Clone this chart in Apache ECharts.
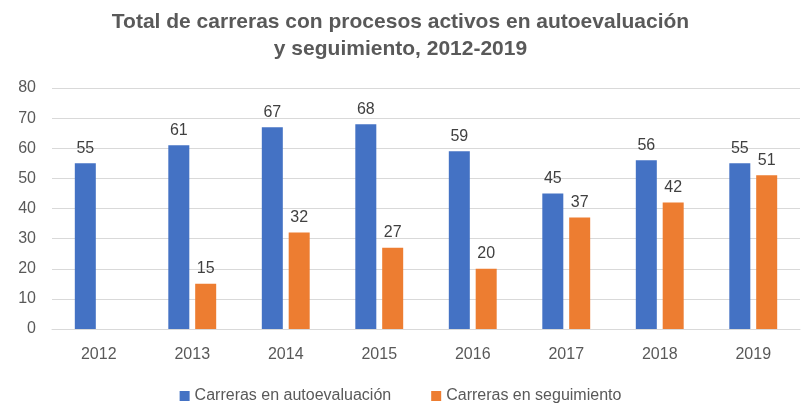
<!DOCTYPE html>
<html>
<head>
<meta charset="utf-8">
<script src="https://cdn.jsdelivr.net/npm/echarts@6/dist/echarts.min.js"></script>
<style>
html, body { margin: 0; padding: 0; background: #fff; }
#main { width: 801px; height: 408px; }
</style>
</head>
<body>
<div id="main"></div>
<script>
var years = ['2012', '2013', '2014', '2015', '2016', '2017', '2018', '2019'];
var autoevaluacion = [55, 61, 67, 68, 59, 45, 56, 55];
var seguimiento = [null, 15, 32, 27, 20, 37, 42, 51];
var yTicks = { min: 0, max: 80, interval: 10 };

var labelFont = 'Liberation Sans, Arial, sans-serif';

var myChart = echarts.init(document.getElementById('main'));
var option = {
    backgroundColor: '#fff',
    title: {
        left: 'center',
        top: 4,
        text: 'Total de carreras con procesos activos en autoevaluación\ny seguimiento, 2012-2019',
        textStyle: {
            fontSize: 21,
            fontWeight: 'bold',
            color: '#595959',
            fontFamily: labelFont,
            lineHeight: 27
        }
    },
    legend: {
        bottom: -1,
        left: 'center',
        itemWidth: 10,
        itemHeight: 10,
        itemGap: 40,
        icon: 'rect',
        textStyle: { color: '#595959', fontSize: 16, fontFamily: labelFont },
        data: ['Carreras en autoevaluación', 'Carreras en seguimiento']
    },
    grid: {
        left: 52,
        right: 1,
        top: 88,
        bottom: 79,
        containLabel: false
    },
    xAxis: {
        type: 'category',
        data: years,
        axisLine: { lineStyle: { color: '#d9d9d9', width: 1 } },
        axisTick: { show: false },
        axisLabel: { color: '#595959', fontSize: 16, fontFamily: labelFont, margin: 18 }
    },
    yAxis: {
        type: 'value',
        min: yTicks.min,
        max: yTicks.max,
        interval: yTicks.interval,
        axisLine: { show: false },
        axisTick: { show: false },
        axisLabel: { color: '#595959', fontSize: 16, fontFamily: labelFont, margin: 16 },
        splitLine: { lineStyle: { color: '#d9d9d9', width: 1 } }
    },
    series: [
        {
            name: 'Carreras en autoevaluación',
            type: 'bar',
            data: autoevaluacion,
            barWidth: 21,
            barGap: '28%',
            itemStyle: { color: '#4472C4' },
            label: { show: true, position: 'top', distance: 7, color: '#404040', fontSize: 16, fontFamily: labelFont }
        },
        {
            name: 'Carreras en seguimiento',
            type: 'bar',
            data: seguimiento,
            barWidth: 21,
            itemStyle: { color: '#ED7D31' },
            label: { show: true, position: 'top', distance: 7, color: '#404040', fontSize: 16, fontFamily: labelFont }
        }
    ]
};
myChart.setOption(option);
window.onresize = myChart.resize;
</script>
</body>
</html>
